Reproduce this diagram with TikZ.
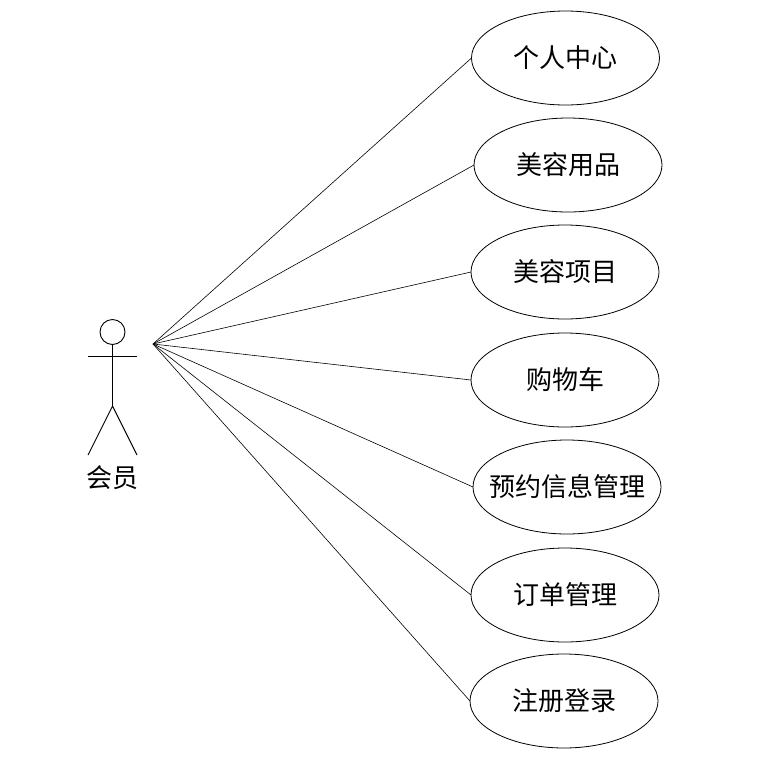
\documentclass[tikz,border=0pt]{standalone}
\usepackage{fontspec}
\setmainfont{Noto Sans CJK SC}
\usepackage{tikz}
\usetikzlibrary{shapes.geometric}

\begin{document}
\begin{tikzpicture}[
    x=1pt, y=-1pt,
    usecase/.style={draw, ellipse, line width=0.8pt, minimum width=188pt, minimum height=94pt, inner sep=0pt, outer sep=0pt, text height=20pt, text depth=2pt, font=\fontsize{26}{30}\selectfont},
    actorline/.style={line width=0.9pt},
    assoc/.style={line width=0.6pt}
]
\useasboundingbox (0,0) rectangle (764,772);

% Use cases
\node[usecase] (center) at (565.5,58) {个人中心};
\node[usecase] (goods) at (568,165) {美容用品};
\node[usecase] (items) at (565,272) {美容项目};
\node[usecase] (cart) at (565,380) {购物车};
\node[usecase] (booking) at (567,487) {\makebox[0pt]{预约信息管理}};
\node[usecase] (orders) at (565,595) {订单管理};
\node[usecase] (register) at (564,701) {注册登录};

% Actor
\node[draw, circle, minimum size=25pt, inner sep=0pt, outer sep=0pt, actorline] (head) at (112.5,332) {};
\coordinate (hip) at (112.5,406);
\coordinate (armleft) at (88,356);
\coordinate (armright) at (137,356);
\coordinate (footleft) at (88,455);
\coordinate (footright) at (137,455);
\draw[actorline] (head.south) -- (hip);
\draw[actorline] (armleft) -- (armright);
\draw[actorline] (footleft) -- (hip) -- (footright);
\node[font=\fontsize{26}{30}\selectfont] (member) at (112,478) {会员};

% Associations
\coordinate (hub) at (153,344);
\foreach \x in {center,goods,items,cart,booking,orders,register} {
    \draw[assoc] (hub) -- (\x.west);
}

\end{tikzpicture}
\end{document}
